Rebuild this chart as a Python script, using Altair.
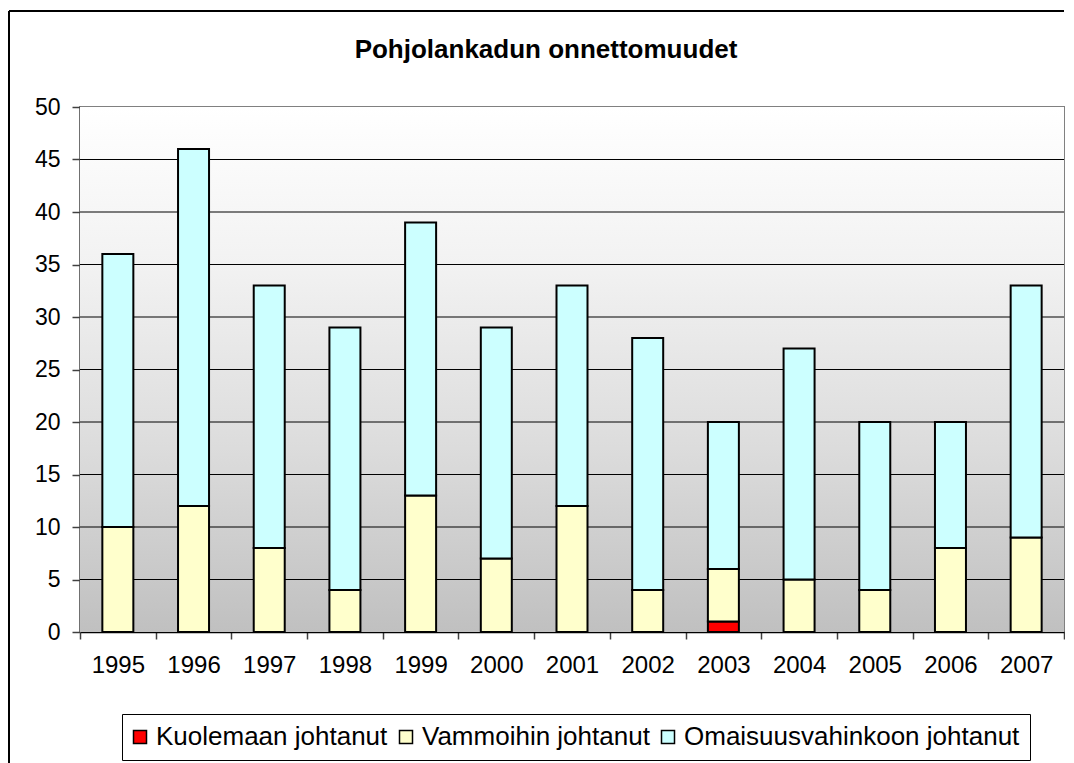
import altair as alt
import pandas as pd

years = ["1995", "1996", "1997", "1998", "1999", "2000", "2001",
         "2002", "2003", "2004", "2005", "2006", "2007"]
kuolemaan = [0, 0, 0, 0, 0, 0, 0, 0, 1, 0, 0, 0, 0]
vammoihin = [10, 12, 8, 4, 13, 7, 12, 4, 5, 5, 4, 8, 9]
omaisuus = [26, 34, 25, 25, 26, 22, 21, 24, 14, 22, 16, 12, 24]
series = ["Kuolemaan johtanut", "Vammoihin johtanut", "Omaisuusvahinkoon johtanut"]
colors = ["#FF0000", "#FFFFCC", "#CCFFFF"]
grid_values = [5, 10, 15, 20, 25, 30, 35, 40, 45]
y_ticks = [0, 5, 10, 15, 20, 25, 30, 35, 40, 45, 50]
title_text = "Pohjolankadun onnettomuudet"

W, H = 984, 525
FONT = "Liberation Sans"

rows = []
for i, y in enumerate(years):
    for s, vals, o in zip(series, [kuolemaan, vammoihin, omaisuus], [0, 1, 2]):
        rows.append({"year": y, "series": s, "value": vals[i], "order": o})
df = pd.DataFrame(rows)

x_scale = alt.Scale(domain=years, paddingInner=0, paddingOuter=0)
y_scale = alt.Scale(domain=[0, 50], nice=False)
one = pd.DataFrame({"a": [0]})

background = alt.Chart(one).mark_rect(
    color=alt.LinearGradient(
        gradient="linear",
        stops=[alt.GradientStop(color="#ffffff", offset=0),
               alt.GradientStop(color="#f2f2f2", offset=0.3),
               alt.GradientStop(color="#dcdcdc", offset=0.65),
               alt.GradientStop(color="#c0c0c0", offset=1)],
        x1=0, x2=0, y1=0, y2=1),
).encode(x=alt.value(0), x2=alt.value(W), y=alt.value(0), y2=alt.value(H))

grid = alt.Chart(pd.DataFrame({"v": grid_values})).mark_rule(
    color="black", strokeWidth=1
).encode(y=alt.Y("v:Q", scale=y_scale))

frame_left = alt.Chart(one).mark_rule(
    color="black", strokeWidth=2
).encode(x=alt.value(-71), y=alt.value(-96), y2=alt.value(H + 140))
frame_top = alt.Chart(one).mark_rule(
    color="black", strokeWidth=2
).encode(x=alt.value(-71), x2=alt.value(W), y=alt.value(-96))

title = alt.Chart(one).mark_text(
    text=title_text, font=FONT, fontSize=26, fontWeight="bold",
    color="black", align="center", baseline="alphabetic"
).encode(x=alt.value(466), y=alt.value(-49))

bars = alt.Chart(df).transform_filter("datum.value > 0").mark_bar(
    size=31, stroke="black", strokeWidth=2
).encode(
    x=alt.X("year:N", scale=x_scale, title=None,
            axis=alt.Axis(labelAngle=0, tickBand="extent", tickSize=7,
                          labelFontSize=24, labelFont=FONT, labelColor="black",
                          labelPadding=14, domainColor="black", tickColor="#404040",
                          domainWidth=1.5, tickWidth=1.5, grid=False)),
    y=alt.Y("value:Q", stack="zero", scale=y_scale, title=None,
            axis=alt.Axis(values=y_ticks, tickSize=8, labelFontSize=23,
                          labelFont=FONT, labelColor="black", labelPadding=12,
                          domainColor="#404040", tickColor="#404040",
                          domainWidth=1.5, tickWidth=1.5, grid=False)),
    color=alt.Color("series:N", scale=alt.Scale(domain=series, range=colors),
                    legend=alt.Legend(
                        title=None, orient="none", direction="horizontal",
                        legendX=42, legendY=607, padding=10,
                        strokeColor="black", fillColor="white",
                        symbolType="square", symbolSize=169, symbolOffset=-5,
                        symbolStrokeColor="black", symbolStrokeWidth=1.5,
                        labelFontSize=26, labelFont=FONT, labelColor="black",
                        labelOffset=3, columnPadding=8, labelLimit=500)),
    order=alt.Order("order:Q"),
)

chart = alt.layer(background, grid, bars, frame_left, frame_top, title).properties(
    width=W, height=H,
    padding={"top": 2, "left": 0, "right": 0, "bottom": 0},
).configure_view(stroke="#808080", strokeWidth=2)

chart.save("out.html", embed_options={"renderer": "svg", "actions": False})
